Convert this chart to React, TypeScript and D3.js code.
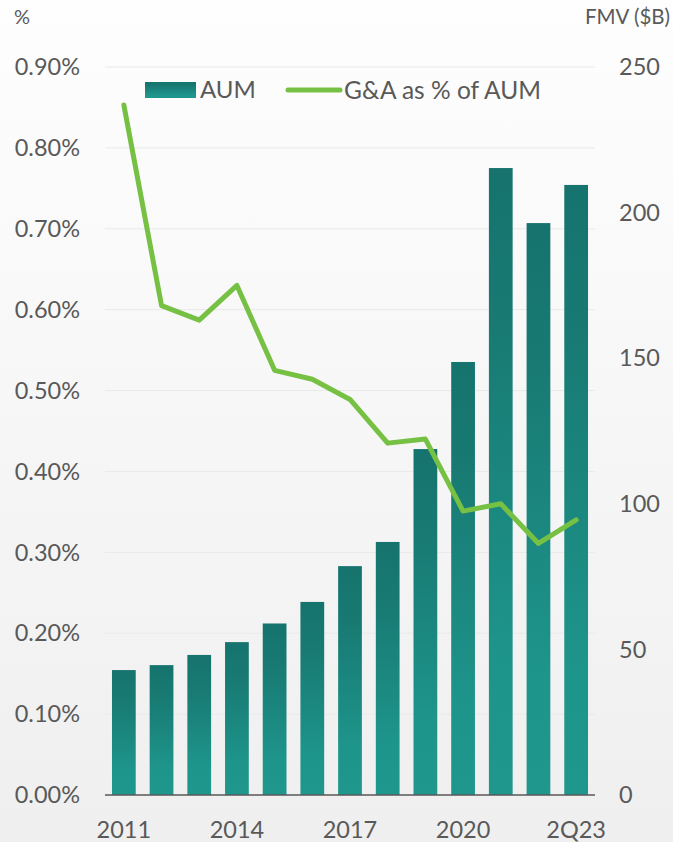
import React from "react";
import * as d3 from "d3";

const categories = ["2011","2012","2013","2014","2015","2016","2017","2018","2019","2020","2021","2022","2Q23"];
const aumValues = [42.9, 44.6, 48.1, 52.5, 58.9, 66.3, 78.6, 86.9, 118.8, 148.7, 215.3, 196.4, 209.5];
const gaPctValues = [0.853, 0.605, 0.587, 0.630, 0.525, 0.514, 0.489, 0.435, 0.440, 0.351, 0.360, 0.311, 0.340];
const xTickLabels = ["2011", "2014", "2017", "2020", "2Q23"];
const leftTicks = [0, 0.1, 0.2, 0.3, 0.4, 0.5, 0.6, 0.7, 0.8, 0.9];
const rightTicks = [0, 50, 100, 150, 200, 250];

const W = 673, H = 842;
const left = 105, right = 595, top = 67, bottom = 795;
const FONT = "Lato, 'Open Sans', sans-serif";
const TEXT = "#595959";

export default function App() {
  const x = d3.scaleBand<string>().domain(categories).range([left, right]).paddingInner(0.37).paddingOuter(0.185);
  const yL = d3.scaleLinear().domain([0, 0.9]).range([bottom, top]);
  const yR = d3.scaleLinear().domain([0, 250]).range([bottom, top]);
  const cx = (c: string) => (x(c) as number) + x.bandwidth() / 2;
  const line = d3.line<number>().x((_, i) => cx(categories[i])).y((d) => yL(d));

  return (
    <svg width={W} height={H} style={{ position: "absolute", left: 0, top: 0 }} fontFamily={FONT}>
      <defs>
        <linearGradient id="bg" x1="0" y1="0" x2="0" y2="1">
          <stop offset="0" stopColor="#fefefe" />
          <stop offset="1" stopColor="#efefef" />
        </linearGradient>
        <linearGradient id="bar" x1="0" y1="0" x2="0" y2="1">
          <stop offset="0" stopColor="#16736e" />
          <stop offset="0.25" stopColor="#187a73" />
          <stop offset="0.8" stopColor="#1e958b" />
          <stop offset="1" stopColor="#1f978d" />
        </linearGradient>
      </defs>
      <rect x={0} y={0} width={W} height={H} fill="url(#bg)" />
      {leftTicks.map((t) => (
        <line key={"g" + t} x1={left} x2={right} y1={yL(t)} y2={yL(t)} stroke="#e9e9e9" strokeWidth={1} />
      ))}
      {aumValues.map((v, i) => (
        <rect key={categories[i]} x={x(categories[i])} y={yR(v)} width={x.bandwidth()} height={bottom - yR(v)} fill="url(#bar)" />
      ))}
      <line x1={left} x2={right} y1={bottom} y2={bottom} stroke="#595959" strokeWidth={1.5} />
      <path d={line(gaPctValues) || ""} fill="none" stroke="#76c043" strokeWidth={5} strokeLinejoin="round" strokeLinecap="round" />
      {leftTicks.map((t) => (
        <text key={"l" + t} x={80} y={yL(t)} dy="0.35em" textAnchor="end" fontSize={23.5} fill={TEXT}>
          {d3.format(".2f")(t) + "%"}
        </text>
      ))}
      {rightTicks.map((t) => (
        <text key={"r" + t} x={619} y={yR(t)} dy="0.35em" textAnchor="start" fontSize={23.5} fill={TEXT}>
          {t}
        </text>
      ))}
      {xTickLabels.map((c) => (
        <text key={"x" + c} x={cx(c)} y={838} textAnchor="middle" fontSize={23.5} fill={TEXT}>
          {c}
        </text>
      ))}
      <text x={14} y={24} fontSize={20} fill={TEXT}>%</text>
      <text x={670} y={24} fontSize={20.5} fill={TEXT} textAnchor="end">FMV ($B)</text>
      <g>
        <rect x={145} y={82} width={51} height={16} fill="url(#bar)" />
        <text x={200} y={90} dy="0.35em" fontSize={24} fill={TEXT}>AUM</text>
        <line x1={288} x2={340} y1={90} y2={90} stroke="#76c043" strokeWidth={5} strokeLinecap="round" />
        <text x={344} y={90} dy="0.35em" fontSize={24.5} fill={TEXT}>G&amp;A as % of AUM</text>
      </g>
    </svg>
  );
}
